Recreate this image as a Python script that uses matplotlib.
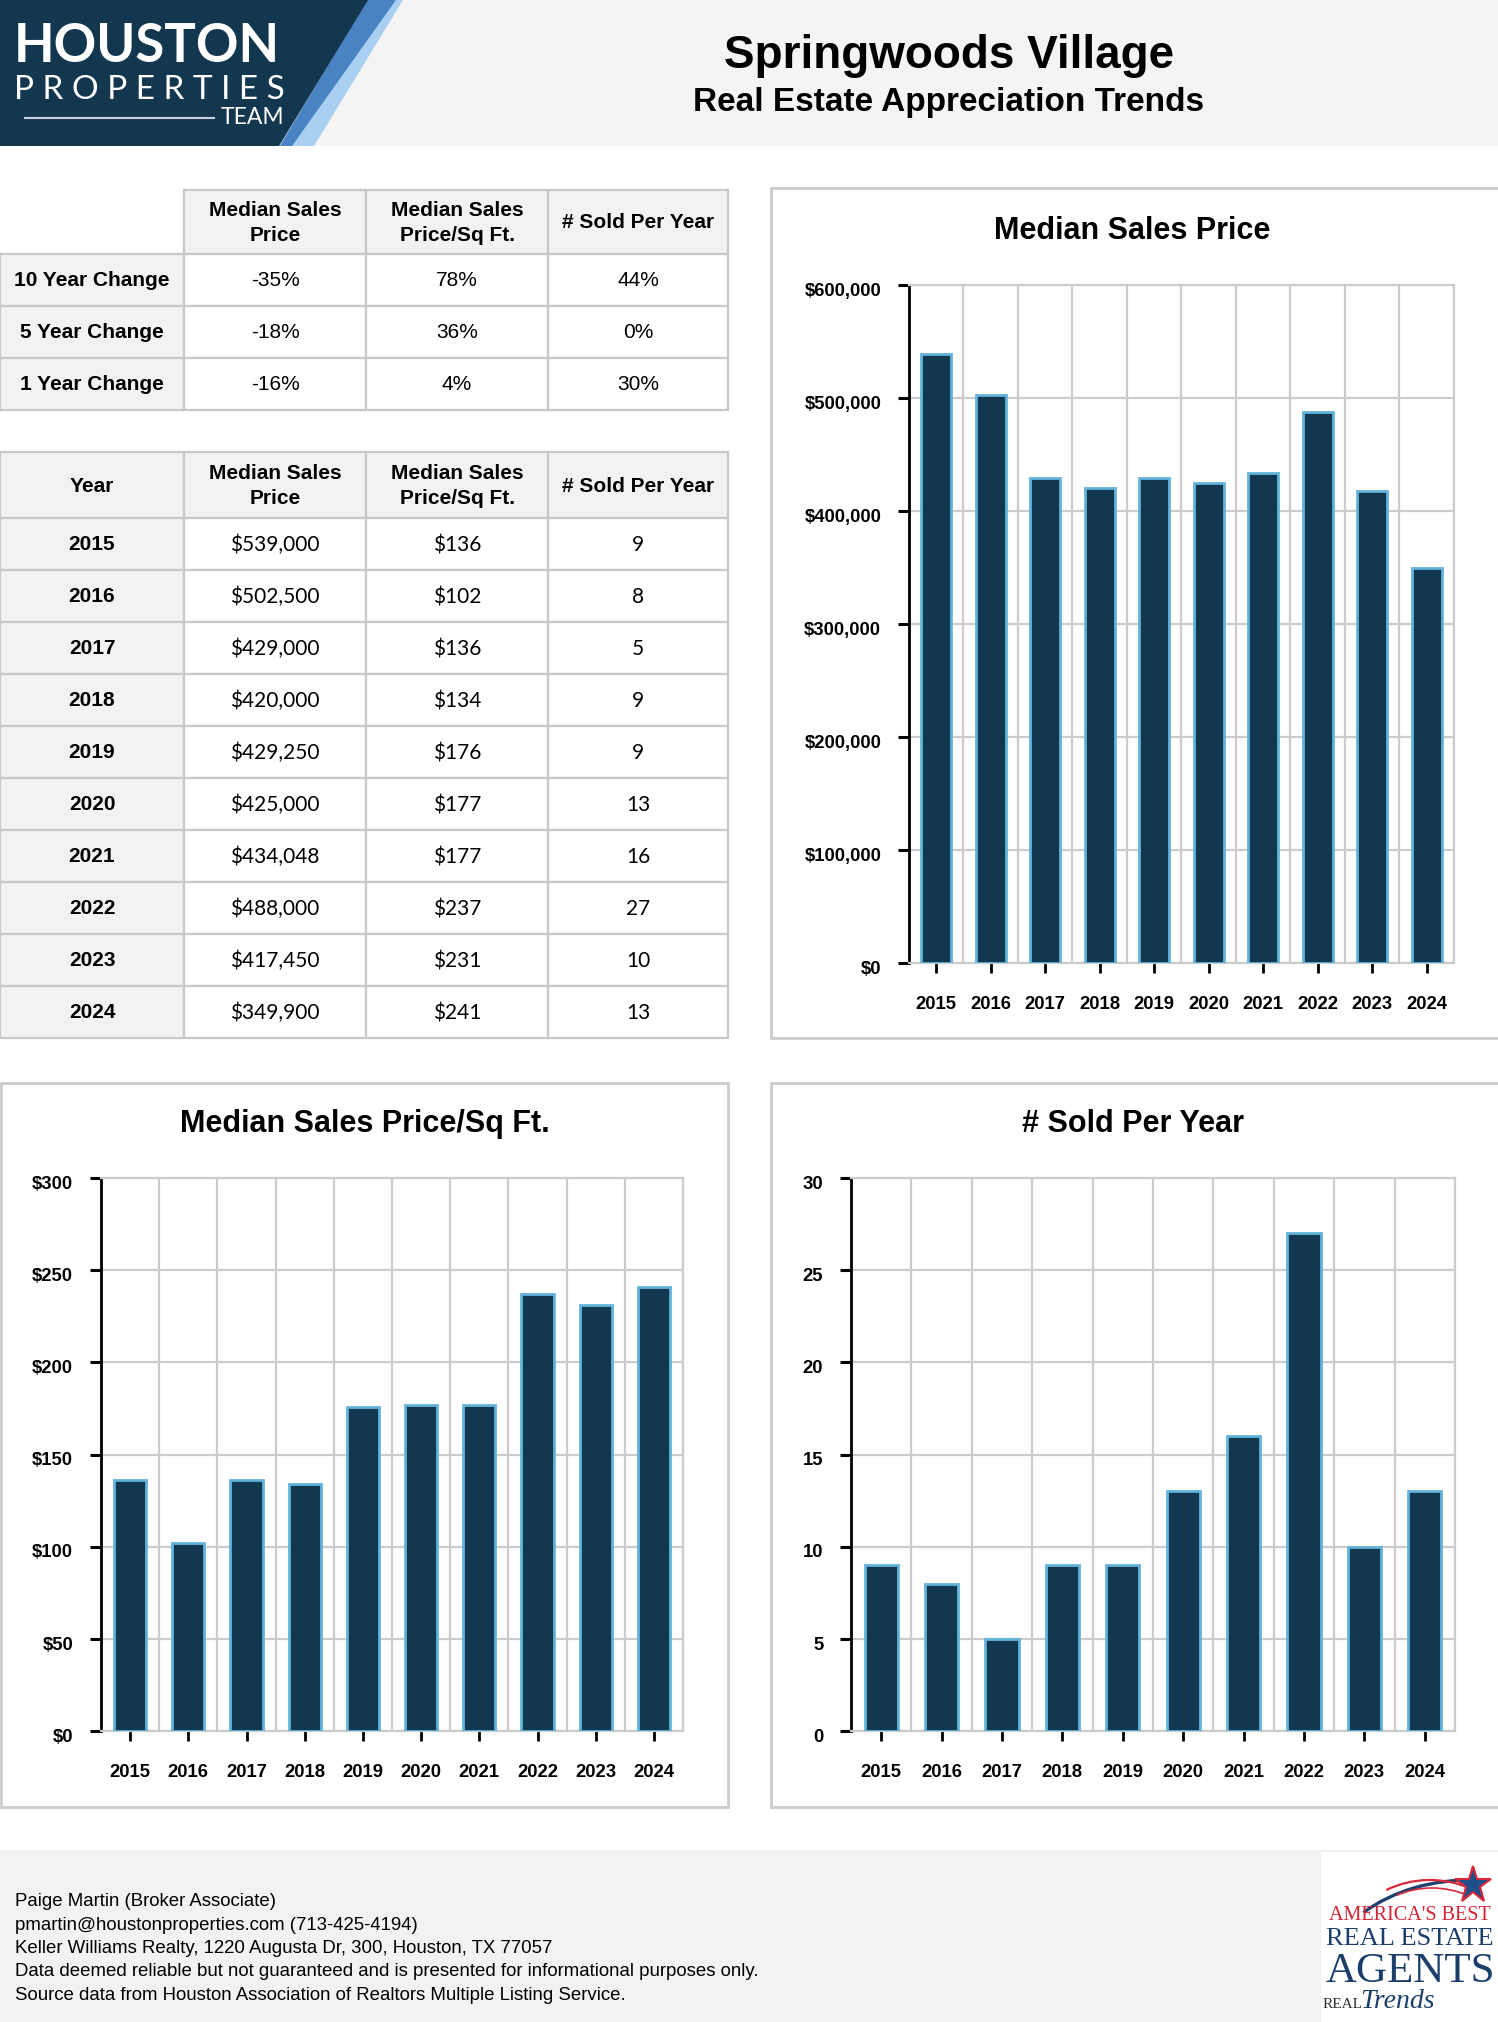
import numpy as np
import matplotlib
matplotlib.use('Agg')
import matplotlib.pyplot as plt
from matplotlib.patches import Rectangle, Polygon, Arc
from matplotlib.ticker import FixedLocator
from matplotlib.transforms import ScaledTranslation

# ---------------- data ----------------
years = ['2015', '2016', '2017', '2018', '2019', '2020', '2021', '2022', '2023', '2024']
median_price = [539000, 502500, 429000, 420000, 429250, 425000, 434048, 488000, 417450, 349900]
price_sqft = [136, 102, 136, 134, 176, 177, 177, 237, 231, 241]
sold_per_year = [9, 8, 5, 9, 9, 13, 16, 27, 10, 13]

change_labels = ['10 Year Change', '5 Year Change', '1 Year Change']
change_price = ['-35%', '-18%', '-16%']
change_sqft = ['78%', '36%', '4%']
change_sold = ['44%', '0%', '30%']

col_headers = ['Median Sales\nPrice', 'Median Sales\nPrice/Sq Ft.', '# Sold Per Year']

price_ticks = [0, 100000, 200000, 300000, 400000, 500000, 600000]
sqft_ticks = [0, 50, 100, 150, 200, 250, 300]
sold_ticks = [0, 5, 10, 15, 20, 25, 30]

footer_lines = [
    'Paige Martin (Broker Associate)',
    'pmartin@houstonproperties.com (713-425-4194)',
    'Keller Williams Realty, 1220 Augusta Dr, 300, Houston, TX 77057',
    'Data deemed reliable but not guaranteed and is presented for informational purposes only.',
    'Source data from Houston Association of Realtors Multiple Listing Service.',
]

# ---------------- style ----------------
plt.rcParams['font.family'] = ['Liberation Sans', 'DejaVu Sans']
LATO = ['Lato', 'Liberation Sans', 'DejaVu Sans']
NAVY = '#11384f'
EDGE = '#62b3dc'
GRID = '#cccccc'
CELL_GREY = '#f2f2f2'
BORDER = '#c8c8c8'

W, H = 1498, 2022
fig = plt.figure(figsize=(W / 100, H / 100), dpi=100)
bg = fig.add_axes([0, 0, 1, 1], zorder=0)
bg.set_xlim(0, W)
bg.set_ylim(H, 0)
bg.axis('off')

# ---------------- header ----------------
bg.add_patch(Rectangle((0, 0), W, 146, facecolor='#f4f4f4', edgecolor='none'))
bg.add_patch(Polygon([(367, 0), (403, 0), (314, 146), (279, 146)], closed=True,
                     facecolor='#a9d0f0', edgecolor='none'))
bg.add_patch(Polygon([(367, 0), (396, 0), (292, 146), (280, 146)], closed=True,
                     facecolor='#4a83c2', edgecolor='none'))
bg.add_patch(Polygon([(0, 0), (368, 0), (279, 146), (0, 146)], closed=True,
                     facecolor='#13374f', edgecolor='none'))
bg.text(14, 46, 'HOUSTON', color='white', fontsize=38, fontweight='bold',
        family=LATO, va='center', ha='left')
bg.text(14, 90, 'P R O P E R T I E S', color='white', fontsize=24,
        family=LATO, va='center', ha='left')
bg.plot([25, 214], [118, 118], color='#c9d3dc', lw=1.5)
bg.text(284, 117, 'TEAM', color='white', fontsize=16.5,
        family=LATO, va='center', ha='right')

bg.text(949, 56, 'Springwoods Village', fontsize=33, fontweight='bold',
        ha='center', va='center', color='black')
bg.text(949, 103, 'Real Estate Appreciation Trends', fontsize=24, fontweight='bold',
        ha='center', va='center', color='black')

# ---------------- tables ----------------
col_x = [0, 184, 366, 548, 728]


def cell(x0, x1, y0, y1, face, text='', bold=False, border=True, size=15, family=None):
    if border:
        bg.add_patch(Rectangle((x0, y0), x1 - x0, y1 - y0, facecolor=face,
                               edgecolor=BORDER, lw=1.6))
    if text:
        kw = {}
        if family:
            kw['family'] = family
        bg.text((x0 + x1) / 2, (y0 + y1) / 2 + 1, text, ha='center', va='center',
                fontsize=size, fontweight='bold' if bold else 'normal',
                color='black', linespacing=1.45, **kw)


def draw_table(y_top, header_h, row_h, corner, rows, data_family=None):
    cell(col_x[0], col_x[1], y_top, y_top + header_h,
         CELL_GREY if corner else 'white', corner, bold=True, border=bool(corner))
    for j, hdr in enumerate(col_headers):
        cell(col_x[j + 1], col_x[j + 2], y_top, y_top + header_h, CELL_GREY, hdr, bold=True)
    for i, r in enumerate(rows):
        y0 = y_top + header_h + i * row_h
        cell(col_x[0], col_x[1], y0, y0 + row_h, CELL_GREY, r[0], bold=True)
        for j in range(3):
            cell(col_x[j + 1], col_x[j + 2], y0, y0 + row_h, 'white', r[j + 1],
                 family=data_family)


rows1 = [[change_labels[i], change_price[i], change_sqft[i], change_sold[i]]
         for i in range(len(change_labels))]
draw_table(190, 64, 52, '', rows1)

rows2 = [[years[i], f'${median_price[i]:,}', f'${price_sqft[i]}', str(sold_per_year[i])]
         for i in range(len(years))]
draw_table(452, 66, 52, 'Year', rows2, data_family=LATO)

# ---------------- charts ----------------
def px_rect(x0, y0, x1, y1):
    return [x0 / W, 1 - y1 / H, (x1 - x0) / W, (y1 - y0) / H]


def bar_chart(panel, axrect, values, ticks, fmt, title, title_y):
    px0, py0, px1, py1 = panel
    bg.add_patch(Rectangle((px0, py0), px1 - px0, py1 - py0, facecolor='white',
                           edgecolor=GRID, lw=2))
    cx = (px0 + px1) / 2 if px1 <= W else (px0 + 1494) / 2
    bg.text(cx, title_y, title, fontsize=22, fontweight='bold', ha='center', va='center')
    ax = fig.add_axes(px_rect(*axrect), zorder=2)
    n = len(values)
    x = np.arange(n)
    ax.bar(x, values, width=0.55, color=NAVY, edgecolor=EDGE, linewidth=2, zorder=3)
    ax.set_xlim(-0.5, n - 0.5)
    ax.set_ylim(ticks[0], ticks[-1])
    ax.set_yticks(ticks)
    ax.set_yticklabels([fmt(t) for t in ticks])
    ax.set_xticks(x)
    ax.set_xticklabels(years)
    ax.xaxis.set_minor_locator(FixedLocator(np.arange(n + 1) - 0.5))
    ax.grid(axis='y', which='major', color=GRID, lw=1.6)
    ax.grid(axis='x', which='minor', color=GRID, lw=1.6)
    ax.grid(axis='x', which='major', visible=False)
    ax.set_axisbelow(True)
    for s in ['top', 'right', 'bottom']:
        ax.spines[s].set_color(GRID)
        ax.spines[s].set_linewidth(1.6)
    ax.spines['left'].set_color('black')
    ax.spines['left'].set_linewidth(2)
    ax.tick_params(axis='y', which='major', length=8, width=2.2, color='black',
                   pad=12, labelsize=13.3)
    ax.tick_params(axis='x', which='major', length=7, width=2, color='black',
                   pad=17, labelsize=13.3)
    ax.tick_params(axis='x', which='minor', length=0)
    shift = ScaledTranslation(0, -3 / 72, fig.dpi_scale_trans)
    for lbl in ax.get_xticklabels() + ax.get_yticklabels():
        lbl.set_fontweight('bold')
    for lbl in ax.get_yticklabels():
        lbl.set_transform(lbl.get_transform() + shift)
    ax.set_facecolor('white')
    return ax


bar_chart((771, 188, W + 10, 1038), (909, 285, 1454, 963), median_price, price_ticks,
          lambda v: f'${v:,.0f}', 'Median Sales Price', 231)
bar_chart((1, 1083, 728, 1807), (101, 1178, 683, 1731), price_sqft, sqft_ticks,
          lambda v: f'${v:.0f}', 'Median Sales Price/Sq Ft.', 1124)
bar_chart((771, 1083, W + 10, 1807), (851, 1178, 1455, 1731), sold_per_year, sold_ticks,
          lambda v: f'{v:.0f}', '# Sold Per Year', 1124)

# ---------------- footer ----------------
bg.add_patch(Rectangle((0, 1850), W, H - 1850, facecolor='#f2f2f2', edgecolor='none'))
for i, line in enumerate(footer_lines):
    bg.text(15, 1902 + i * 23.3, line, fontsize=13.4, ha='left', va='center', color='black')

# right-hand badge
bg.add_patch(Rectangle((1321, 1852), W - 1321, H - 1852, facecolor='white', edgecolor='none'))
bg.add_patch(Arc((1470, 1990), 300, 220, theta1=216, theta2=274, color='#1f3f6e', lw=2.4))
bg.add_patch(Arc((1430, 1960), 180, 160, theta1=238, theta2=300, color='#d8283a', lw=1.6))
bg.add_patch(Arc((1432, 1968), 170, 160, theta1=244, theta2=296, color='#d8283a', lw=1.2))
bg.plot([1473], [1885], marker='*', markersize=28, color='#1d4f8a',
        markeredgecolor='#d8283a', markeredgewidth=1.5, zorder=5)
serif = ['Liberation Serif', 'DejaVu Serif']
bg.text(1410, 1915, "AMERICA'S BEST", fontsize=14.5, color='#d42235', family=serif,
        ha='center', va='center')
bg.text(1410, 1939, 'REAL ESTATE', fontsize=19, color='#1b3e6a', family=serif,
        ha='center', va='center')
bg.text(1410, 1972, 'AGENTS', fontsize=31, color='#1b3e6a', family=serif,
        ha='center', va='center')
bg.text(1323, 2004, 'REAL', fontsize=11, color='#333333', family=serif,
        ha='left', va='center')
bg.text(1360, 2002, 'Trends', fontsize=20, color='#1b3e6a', family=serif, style='italic',
        ha='left', va='center')

fig.savefig('out.png', dpi=100)
